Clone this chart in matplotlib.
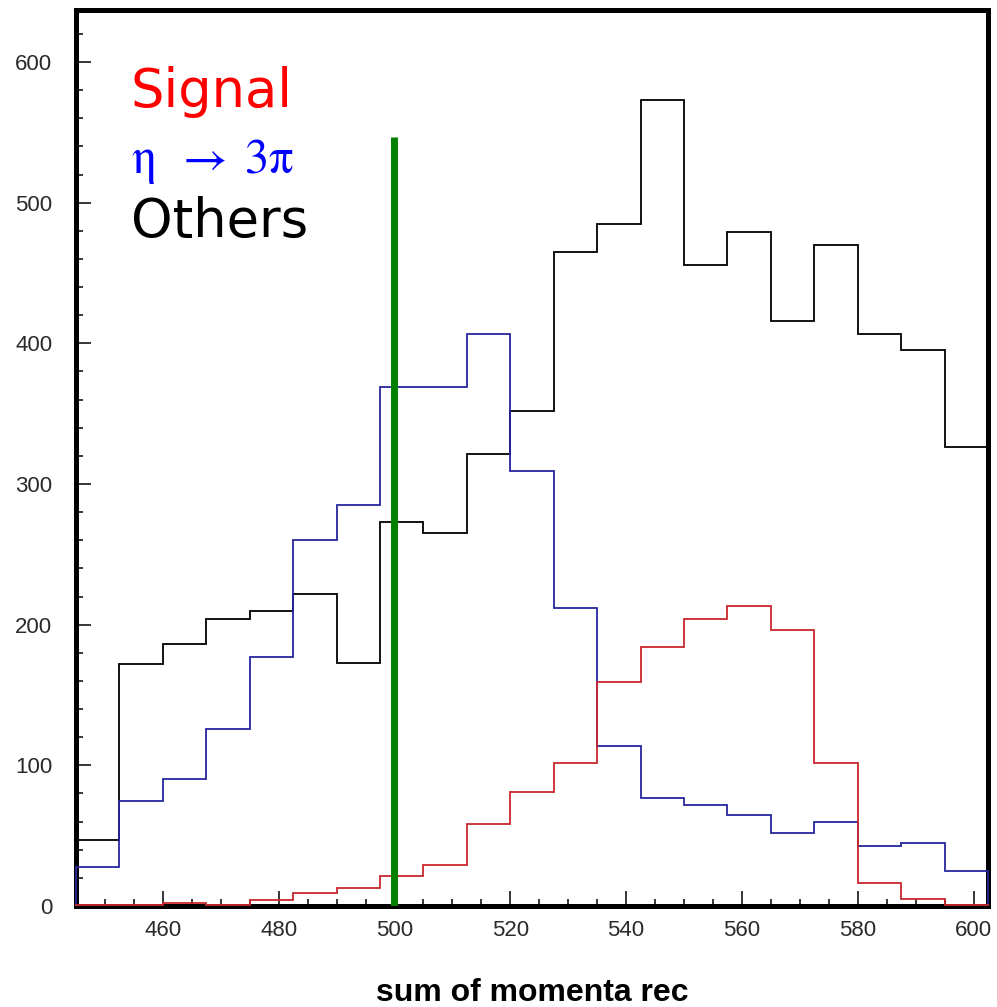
import numpy as np
import matplotlib
matplotlib.use("Agg")
import matplotlib.pyplot as plt
from matplotlib.ticker import MultipleLocator

# bin edges of the histograms (sum of momenta rec)
edges = [445.0, 452.5, 460.0, 467.5, 475.0, 482.5, 490.0, 497.5, 505.0, 512.5, 520.0,
         527.5, 535.0, 542.5, 550.0, 557.5, 565.0, 572.5, 580.0, 587.5, 595.0, 602.5]

others = [47, 172, 186, 204, 210, 222, 173, 273, 265, 321, 352,
          465, 485, 573, 456, 479, 416, 470, 407, 395, 326]
eta3pi = [28, 75, 90, 126, 177, 260, 285, 369, 369, 407, 309,
          212, 114, 77, 72, 65, 52, 60, 43, 45, 25]
signal = [1, 1, 2, 1, 4, 9, 13, 21, 29, 58, 81,
          102, 159, 184, 204, 213, 196, 102, 16, 5, 1]

cut_x = 500
cut_top = 547

XLIM = (445, 602.5)
YLIM = (0, 637)

fig = plt.figure(figsize=(9.97, 10.07), dpi=100)
ax = fig.add_axes([76 / 997, 1 - 906 / 1007, 912 / 997, 896 / 1007])

ax.stairs(others, edges, color="black", lw=1.3, zorder=3, clip_on=False)
ax.stairs(eta3pi, edges, color="#26269e", lw=1.3, zorder=3, clip_on=False)
ax.stairs(signal, edges, color="#c8282c", lw=1.3, zorder=3, clip_on=False)

ax.vlines(cut_x, 0, cut_top, color="#008000", lw=5, zorder=4)

ax.set_xlim(*XLIM)
ax.set_ylim(*YLIM)

for s in ax.spines.values():
    s.set_linewidth(3.6)
    s.set_color("black")

ax.xaxis.set_major_locator(MultipleLocator(20))
ax.xaxis.set_minor_locator(MultipleLocator(5))
ax.yaxis.set_major_locator(MultipleLocator(100))
ax.yaxis.set_minor_locator(MultipleLocator(20))
ax.tick_params(which="both", direction="in", top=False, right=False, width=1.1)
ax.tick_params(which="major", length=11)
ax.tick_params(which="minor", length=5)
ax.tick_params(axis="x", which="major", pad=10, labelsize=16)
ax.tick_params(axis="y", which="major", pad=17, labelsize=16)
for lab in ax.get_xticklabels() + ax.get_yticklabels():
    lab.set_family("Liberation Sans")
    lab.set_color("#2a2a2a")

ax.set_xlabel("sum of momenta rec", fontsize=23, family="Liberation Sans",
              fontweight="bold", labelpad=27)

ax.text(0.060, 0.892, "Signal", transform=ax.transAxes, color="#ff0000",
        fontsize=38, family="DejaVu Sans", va="baseline", ha="left")
ax.text(0.060, 0.818, r"$\mathrm{\eta}\;\;\rightarrow\;3\mathrm{\pi}$",
        transform=ax.transAxes, color="#0000ff", fontsize=35,
        math_fontfamily="stix", va="baseline", ha="left")
ax.text(0.060, 0.747, "Others", transform=ax.transAxes, color="black",
        fontsize=38, family="DejaVu Sans", va="baseline", ha="left")

fig.savefig("out.png", dpi=100)
